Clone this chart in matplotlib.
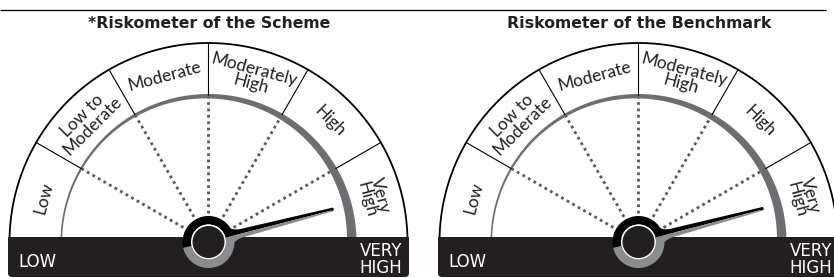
import numpy as np
import matplotlib
matplotlib.use("Agg")
from matplotlib import pyplot as plt
from matplotlib.patches import Polygon, Circle, Rectangle, FancyBboxPatch

# Data
# ===================================================================================================
titles = ["*Riskometer of the Scheme", "Riskometer of the Benchmark"]
categories = ["Low", "Low to\nModerate", "Moderate", "Moderately\nHigh", "High", "Very\nHigh"]
band_labels = ["LOW", "VERY\nHIGH"]
needle_level = [5.52, 5.51]      # position on the 0..6 scale (6 segments)

# Styling
# ===================================================================================================
DARK = "#231f20"
GREY = "#6d6e71"
LIGHT_GREY = "#8a8c8f"
FONT = "DejaVu Sans"
LABEL_FONT = ["Lato", "DejaVu Sans"]

W, H = 834, 278
centers_x = [208.5, 638.5]
center_y = 242
R_OUT = 199
R_IN = 147
n_seg = len(categories)


def pt(cx, cy, r, a):
    a = np.radians(a)
    return cx + r * np.cos(a), cy - r * np.sin(a)


def arc(cx, cy, r, a0, a1, n=200):
    a = np.radians(np.linspace(a0, a1, n))
    r = np.broadcast_to(r, a.shape)
    return np.column_stack([cx + r * np.cos(a), cy - r * np.sin(a)])


fig = plt.figure(figsize=(W / 100, H / 100), dpi=100)
ax = fig.add_axes([0, 0, 1, 1])
ax.set_xlim(0, W)
ax.set_ylim(H, 0)
ax.axis("off")

# top rule
ax.plot([0, 826], [10, 10], color="black", lw=0.9, solid_capstyle="butt")

for g, cx in enumerate(centers_x):
    cy = center_y
    ax.text(cx + 1, 23, titles[g], ha="center", va="center", fontsize=11.3,
            fontweight="bold", color=DARK, family=FONT)

    # outer arc
    o = arc(cx, cy, R_OUT, 180, 0)
    ax.plot(o[:, 0], o[:, 1], color="black", lw=1.3, zorder=3)

    # segment dividers and dotted guides
    for k in range(1, n_seg):
        a = 180 - k * 180 / n_seg
        x0, y0 = pt(cx, cy, R_IN, a)
        x1, y1 = pt(cx, cy, R_OUT, a)
        ax.plot([x0, x1], [y0, y1], color="black", lw=0.8, zorder=3)
        x2, y2 = pt(cx, cy, 29, a)
        ax.plot([x2, x0], [y2, y0], color="#58595b", lw=2.0,
                linestyle=(0, (1, 1.3)), zorder=2)

    # tapered grey inner ring
    ang = np.linspace(180, -3, 300)
    wdt = 1.6 + 8.0 * ((180 - ang) / 180) ** 1.5
    outer = arc(cx, cy, R_IN + 1, 180, -3, 300)
    inner = arc(cx, cy, R_IN + 1 - wdt, 180, -3, 300)
    ax.add_patch(Polygon(np.vstack([outer, inner[::-1]]), closed=True,
                         facecolor=GREY, edgecolor="none", zorder=2))

    # category labels
    for k, lab in enumerate(categories):
        a = 180 - (k + 0.5) * 180 / n_seg
        x, y = pt(cx, cy, 171, a)
        ax.text(x, y, lab, rotation=a - 90, rotation_mode="anchor", ha="center",
                va="center", fontsize=12.5, fontweight="normal", color="#231f20",
                family=LABEL_FONT, linespacing=0.85, zorder=4)

    # dark band
    left, right = cx - R_OUT - 1.5, cx + R_OUT + 1.5
    ax.add_patch(FancyBboxPatch((left + 4, 241), right - left - 8, 32,
                                boxstyle="round,pad=4", facecolor=DARK,
                                edgecolor="none", zorder=5))
    ax.add_patch(Rectangle((left, 237), right - left, 12, facecolor=DARK,
                           edgecolor="none", zorder=5))
    ax.text(left + 10, 267, band_labels[0], ha="left", va="baseline",
            fontsize=12, color="white", family=FONT, zorder=6)
    ax.text(right - 7, 273, band_labels[1], ha="right", va="baseline",
            fontsize=12, color="white", family=FONT, linespacing=0.9,
            zorder=6)

    # needle
    phi = 180 - needle_level[g] * 180 / n_seg
    L = 128
    d = np.linspace(20, L, 120)
    fillet = 6.0 * np.clip(1 - (d - 20) / 14, 0, 1) ** 2
    w_top = 5.0 - 2.6 * (d - 20) / (L - 20) + fillet
    w_bot = 4.5 - 3.3 * (d - 20) / (L - 20) + fillet
    ur = np.radians(phi)
    u = np.array([np.cos(ur), -np.sin(ur)])
    nv = np.array([-np.sin(ur), -np.cos(ur)])
    c = np.array([cx, cy])
    mid = c + d[:, None] * u
    top = mid + w_top[:, None] * nv
    bot = mid - w_bot[:, None] * nv
    ax.add_patch(Polygon(np.vstack([top, mid[::-1]]), closed=True,
                         facecolor="black", edgecolor="none", zorder=7))
    ax.add_patch(Polygon(np.vstack([mid, bot[::-1]]), closed=True,
                         facecolor=LIGHT_GREY, edgecolor="none", zorder=7))
    tip = mid[-1] + 0.9 * nv
    ax.add_patch(Circle(tip, 1.6, facecolor="black", edgecolor="none", zorder=7))

    # hub
    ring_black = np.vstack([arc(cx, cy, 26, phi, 193), arc(cx, cy, 17.5, 193, phi)])
    ring_grey = np.vstack([arc(cx, cy, 26, -167, phi), arc(cx, cy, 17.5, phi, -167)])
    ax.add_patch(Polygon(ring_black, closed=True, facecolor="black",
                         edgecolor="none", zorder=8))
    ax.add_patch(Polygon(ring_grey, closed=True, facecolor=LIGHT_GREY,
                         edgecolor="none", zorder=8))
    ax.add_patch(Circle((cx, cy), 17.5, facecolor="white", edgecolor="none", zorder=8))
    ax.add_patch(Circle((cx, cy), 16, facecolor=DARK, edgecolor="none", zorder=9))

fig.savefig("out.png", dpi=100, facecolor="white")
